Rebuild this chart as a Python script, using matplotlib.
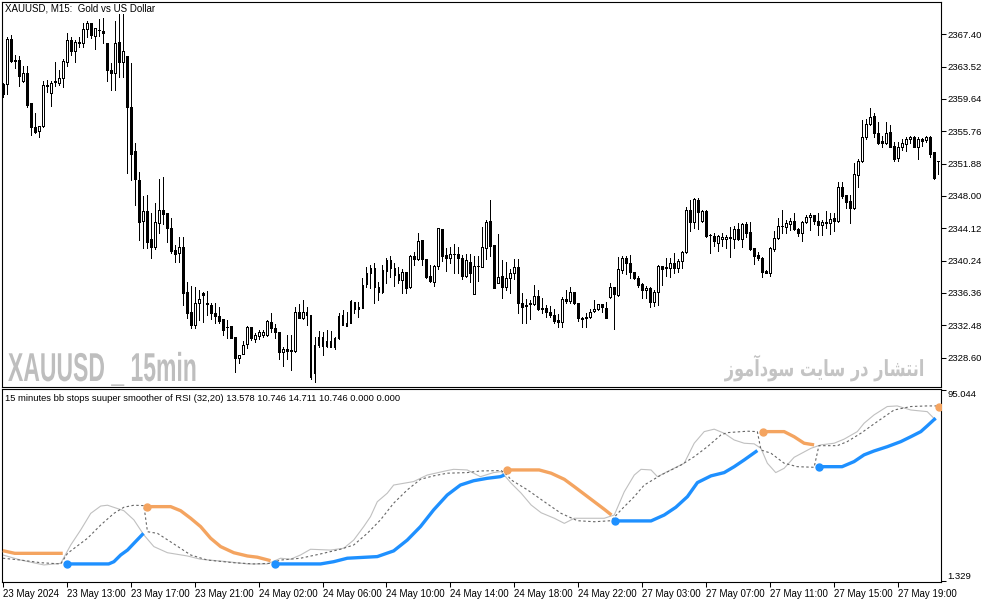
import numpy as np
import matplotlib
matplotlib.use("Agg")
import matplotlib.pyplot as plt
from matplotlib.patheffects import AbstractPathEffect
from matplotlib.transforms import Affine2D

# ---------------- price data (XAUUSD M15) ----------------
opens = [2361.38, 2361.38, 2366.78, 2364.3, 2364.3, 2361.82, 2362.78, 2359.18, 2356.3, 2355.82,
         2356.38, 2361.3, 2360.38, 2361.7, 2361.58, 2362.1, 2364.1, 2366.7, 2365.42, 2366.38,
         2366.3, 2367.98, 2368.7, 2367.22, 2367.94, 2367.78, 2366.3, 2363.1, 2362.78, 2366.42,
         2364.1, 2364.78, 2358.62, 2353.38, 2349.9, 2345.02, 2346.22, 2342.82, 2341.9, 2344.7,
         2346.3, 2345.9, 2344.1, 2341.5, 2341.1, 2341.9, 2336.5, 2334.1, 2332.5, 2335.18,
         2336.38, 2335.1, 2334.9, 2333.98, 2333.58, 2333.18, 2332.3, 2332.38, 2331.02, 2328.58,
         2328.98, 2330.18, 2332.22, 2330.78, 2331.22, 2331.3, 2331.3, 2332.9, 2332.1, 2331.62,
         2329.22, 2329.62, 2329.5, 2329.42, 2334.02, 2333.3, 2334.02, 2333.7, 2326.7, 2330.1,
         2331.02, 2329.98, 2330.62, 2329.9, 2330.9, 2333.7, 2332.42, 2332.7, 2335.22, 2334.62,
         2334.5, 2337.42, 2338.7, 2339.3, 2337.1, 2336.5, 2339.02, 2340.3, 2339.3, 2338.62,
         2337.9, 2338.82, 2337.02, 2340.78, 2340.38, 2342.7, 2340.38, 2338.38, 2337.7, 2339.62,
         2343.98, 2340.9, 2340.5, 2341.02, 2341.02, 2340.5, 2338.38, 2340.02, 2336.22, 2339.58,
         2339.5, 2341.7, 2344.98, 2342.1, 2337.5, 2338.38, 2337.02, 2338.1, 2338.7, 2339.5,
         2335.1, 2334.9, 2335.02, 2334.98, 2335.98, 2334.5, 2334.5, 2334.1, 2333.7, 2333.1,
         2332.9, 2335.58, 2335.38, 2336.42, 2335.1, 2333.38, 2333.42, 2333.5, 2334.22, 2334.38,
         2335.02, 2334.5, 2335.82, 2337.02, 2336.1, 2339.1, 2340.58, 2339.98, 2338.9, 2338.1,
         2337.42, 2336.7, 2336.9, 2335.3, 2336.42, 2339.62, 2339.3, 2339.3, 2339.9, 2339.3,
         2340.18, 2341.22, 2346.3, 2344.9, 2347.5, 2345.02, 2346.18, 2343.3, 2343.22, 2342.3,
         2342.78, 2342.78, 2343.1, 2342.78, 2343.98, 2342.78, 2344.62, 2343.62, 2341.7, 2340.9,
         2340.5, 2338.98, 2338.78, 2341.58, 2342.9, 2344.38, 2344.3, 2344.62, 2344.98, 2343.98,
         2343.5, 2344.82, 2345.42, 2345.7, 2345.02, 2344.5, 2344.9, 2344.78, 2345.3, 2345.02,
         2349.1, 2348.1, 2347.38, 2346.5, 2350.5, 2352.22, 2355.1, 2356.62, 2357.58, 2355.5,
         2354.58, 2354.38, 2355.62, 2353.98, 2352.5, 2353.82, 2354.22, 2354.78, 2355.1, 2353.9,
         2354.78, 2354.7, 2355.1, 2353.22, 2352.2]
highs = [2361.5, 2367.1, 2367.3, 2364.9, 2364.78, 2363.58, 2363.58, 2359.18, 2357.9, 2356.38,
         2361.82, 2361.9, 2361.82, 2364.02, 2363.1, 2364.38, 2367.5, 2367.02, 2366.7, 2367.1,
         2368.7, 2369.02, 2368.78, 2368.1, 2369.18, 2369.3, 2366.3, 2363.9, 2369.02, 2369.82,
         2369.82, 2364.78, 2363.9, 2354.3, 2350.9, 2347.98, 2348.1, 2345.9, 2347.1, 2349.98,
         2350.22, 2345.9, 2345.3, 2342.1, 2343.1, 2343.1, 2337.7, 2337.18, 2337.1, 2336.7,
         2336.5, 2336.58, 2335.1, 2335.1, 2334.62, 2333.18, 2333.1, 2332.38, 2331.1, 2328.9,
         2330.62, 2332.38, 2332.3, 2331.5, 2331.9, 2331.9, 2333.1, 2333.9, 2332.62, 2331.62,
         2329.9, 2331.3, 2331.3, 2334.7, 2335.02, 2335.5, 2334.7, 2333.7, 2331.1, 2331.82,
         2331.62, 2331.9, 2331.82, 2331.02, 2333.9, 2334.3, 2334.1, 2335.5, 2335.22, 2335.3,
         2338.1, 2339.5, 2339.7, 2339.9, 2337.7, 2339.7, 2340.58, 2340.78, 2339.9, 2339.5,
         2339.18, 2338.82, 2340.9, 2341.22, 2343.5, 2342.7, 2340.38, 2339.7, 2339.7, 2344.1,
         2343.98, 2341.7, 2341.9, 2342.18, 2341.82, 2340.9, 2341.02, 2341.02, 2340.78, 2340.78,
         2344.22, 2345.1, 2347.5, 2342.1, 2343.38, 2340.3, 2340.1, 2339.18, 2340.38, 2340.38,
         2336.3, 2335.58, 2335.5, 2337.3, 2336.7, 2335.7, 2334.9, 2334.78, 2334.38, 2333.82,
         2335.9, 2336.7, 2337.1, 2336.5, 2335.1, 2333.5, 2333.98, 2334.38, 2335.5, 2335.02,
         2335.02, 2335.3, 2337.5, 2337.02, 2340.7, 2340.78, 2340.78, 2340.9, 2338.9, 2338.38,
         2337.58, 2337.18, 2337.02, 2336.7, 2339.7, 2339.62, 2340.58, 2340.5, 2341.1, 2340.38,
         2341.42, 2346.7, 2347.5, 2347.7, 2347.7, 2346.3, 2346.3, 2343.38, 2343.5, 2343.3,
         2343.5, 2343.3, 2344.3, 2344.38, 2344.7, 2344.78, 2344.9, 2344.9, 2341.7, 2341.3,
         2340.62, 2339.1, 2341.9, 2343.78, 2345.3, 2346.3, 2345.1, 2345.3, 2345.98, 2344.1,
         2345.02, 2345.7, 2345.9, 2345.7, 2345.9, 2345.1, 2346.22, 2345.98, 2345.98, 2349.7,
         2349.7, 2348.1, 2348.1, 2351.9, 2352.38, 2357.1, 2357.18, 2358.5, 2357.9, 2356.9,
         2355.18, 2356.9, 2356.5, 2354.5, 2354.5, 2354.78, 2355.02, 2355.18, 2355.18, 2355.02,
         2354.9, 2355.18, 2355.18, 2353.22, 2352.2]
lows = [2359.9, 2360.22, 2364.1, 2363.3, 2361.22, 2361.7, 2358.62, 2355.3, 2355.5, 2355.1,
        2356.3, 2360.5, 2358.78, 2361.18, 2361.3, 2361.02, 2363.62, 2364.9, 2364.1, 2365.9,
        2365.9, 2367.02, 2366.98, 2365.62, 2367.22, 2366.38, 2361.82, 2360.7, 2360.7, 2362.3,
        2362.3, 2350.78, 2349.9, 2346.9, 2342.7, 2341.7, 2341.7, 2340.58, 2341.58, 2343.5,
        2344.62, 2342.5, 2341.1, 2340.1, 2340.1, 2334.9, 2333.3, 2332.1, 2332.1, 2333.1,
        2332.9, 2333.7, 2333.18, 2332.78, 2332.78, 2331.3, 2330.9, 2330.9, 2326.9, 2327.9,
        2328.98, 2329.7, 2330.7, 2330.5, 2330.78, 2331.1, 2331.18, 2331.7, 2330.9, 2328.38,
        2327.62, 2328.38, 2327.1, 2329.3, 2333.3, 2333.18, 2332.5, 2325.98, 2325.7, 2329.9,
        2328.9, 2329.82, 2329.82, 2329.58, 2330.78, 2332.5, 2332.38, 2332.7, 2333.9, 2333.5,
        2334.5, 2337.02, 2336.9, 2335.1, 2335.5, 2336.3, 2337.5, 2338.3, 2337.18, 2337.58,
        2336.3, 2336.3, 2336.9, 2339.7, 2340.3, 2339.7, 2338.1, 2337.7, 2337.18, 2339.18,
        2340.22, 2339.02, 2339.98, 2338.78, 2338.78, 2337.98, 2338.3, 2337.7, 2336.22, 2337.82,
        2339.42, 2340.38, 2340.78, 2336.9, 2337.5, 2335.7, 2336.7, 2336.38, 2337.98, 2333.98,
        2332.7, 2332.7, 2333.18, 2334.9, 2334.3, 2333.9, 2333.42, 2333.5, 2332.7, 2332.22,
        2332.22, 2335.1, 2335.1, 2335.02, 2333.02, 2332.22, 2332.22, 2333.3, 2334.1, 2334.3,
        2334.1, 2333.3, 2335.7, 2331.98, 2335.98, 2338.78, 2338.62, 2338.1, 2337.98, 2337.1,
        2335.7, 2335.78, 2334.7, 2334.78, 2334.9, 2337.3, 2338.38, 2338.3, 2338.78, 2338.9,
        2339.3, 2341.1, 2343.82, 2344.1, 2343.98, 2344.9, 2343.02, 2341.18, 2341.98, 2341.42,
        2341.98, 2341.7, 2340.62, 2341.7, 2342.7, 2341.82, 2343.1, 2341.5, 2339.78, 2340.3,
        2338.3, 2338.7, 2338.38, 2341.42, 2342.78, 2343.5, 2343.5, 2343.9, 2343.9, 2343.18,
        2342.62, 2344.7, 2343.9, 2344.62, 2343.3, 2343.3, 2344.1, 2343.42, 2343.82, 2344.9,
        2347.7, 2346.5, 2344.78, 2346.38, 2349.02, 2352.1, 2354.78, 2356.5, 2355.1, 2354.22,
        2353.9, 2354.22, 2353.82, 2352.22, 2352.22, 2353.5, 2353.42, 2354.38, 2353.82, 2352.42,
        2353.98, 2354.5, 2352.62, 2349.98, 2350.6]
closes = [2360.18, 2366.78, 2364.22, 2364.22, 2362.38, 2362.78, 2358.9, 2356.22, 2355.7, 2356.38,
          2361.3, 2361.18, 2361.58, 2361.74, 2362.1, 2364.18, 2366.7, 2365.42, 2366.5, 2366.42,
          2367.98, 2368.7, 2367.26, 2368.1, 2367.9, 2367.5, 2363.1, 2362.78, 2366.3, 2364.1,
          2365.38, 2358.62, 2352.98, 2349.98, 2344.9, 2346.22, 2342.5, 2341.9, 2344.9, 2346.3,
          2345.78, 2344.1, 2341.42, 2341.02, 2341.9, 2336.38, 2333.9, 2332.5, 2335.1, 2335.58,
          2336.1, 2335.06, 2333.9, 2333.58, 2333.02, 2331.9, 2332.26, 2330.98, 2328.5, 2328.86,
          2330.1, 2332.22, 2330.9, 2331.3, 2331.62, 2331.7, 2332.98, 2332.1, 2331.62, 2329.22,
          2329.62, 2329.42, 2329.38, 2334.02, 2333.3, 2334.02, 2333.7, 2326.3, 2330.1, 2331.1,
          2329.98, 2330.62, 2329.9, 2330.9, 2333.58, 2332.5, 2332.7, 2335.42, 2334.42, 2334.38,
          2337.3, 2338.7, 2339.38, 2337.02, 2336.5, 2339.1, 2340.3, 2339.3, 2338.5, 2337.9,
          2338.82, 2336.9, 2340.78, 2340.38, 2342.58, 2340.38, 2338.3, 2337.82, 2339.62, 2344.1,
          2340.78, 2340.5, 2341.02, 2340.98, 2340.5, 2338.38, 2340.3, 2338.78, 2339.58, 2339.54,
          2341.82, 2344.82, 2341.98, 2336.9, 2338.3, 2337.02, 2338.1, 2338.7, 2339.5, 2335.18,
          2334.62, 2334.78, 2335.18, 2335.98, 2334.42, 2334.46, 2334.1, 2333.7, 2333.02, 2332.9,
          2335.58, 2335.42, 2336.5, 2335.1, 2333.3, 2333.22, 2333.38, 2334.02, 2334.38, 2335.02,
          2334.62, 2333.38, 2337.02, 2336.22, 2339.22, 2340.58, 2339.98, 2338.9, 2338.1, 2337.3,
          2336.7, 2336.98, 2335.3, 2336.42, 2339.58, 2339.26, 2339.5, 2339.9, 2339.3, 2340.18,
          2341.22, 2346.3, 2344.82, 2347.58, 2346.1, 2346.18, 2343.22, 2343.26, 2342.62, 2343.18,
          2343.1, 2343.1, 2342.98, 2343.98, 2342.78, 2344.62, 2343.58, 2341.58, 2340.78, 2340.5,
          2338.9, 2338.78, 2341.7, 2342.98, 2344.38, 2344.34, 2344.78, 2344.98, 2343.98, 2343.5,
          2344.82, 2345.42, 2345.7, 2345.02, 2344.5, 2344.9, 2344.78, 2345.18, 2345.02, 2349.1,
          2347.98, 2347.3, 2346.5, 2350.58, 2352.22, 2355.1, 2356.62, 2357.5, 2355.5, 2354.38,
          2354.38, 2355.58, 2353.9, 2352.38, 2353.9, 2354.3, 2354.78, 2355.02, 2353.9, 2354.78,
          2354.62, 2355.1, 2353.02, 2350.1, 2352.2]

price_ticks = [2328.60, 2332.48, 2336.36, 2340.24, 2344.12, 2348.00,
               2351.88, 2355.76, 2359.64, 2363.52, 2367.40]

time_tick_bars = [0, 16, 32, 48, 64, 80, 96, 112, 128, 144, 160, 176, 192, 208, 224]
time_tick_labels = ["23 May 2024", "23 May 13:00", "23 May 17:00", "23 May 21:00",
                    "24 May 02:00", "24 May 06:00", "24 May 10:00", "24 May 14:00",
                    "24 May 18:00", "24 May 22:00", "27 May 03:00", "27 May 07:00",
                    "27 May 11:00", "27 May 15:00", "27 May 19:00"]

# ---------------- indicator data ----------------
rsi_bars = [0, 4.5, 10.3, 14.5, 17, 19.5, 22, 24.5, 26.2, 30.3, 32.8, 35.3, 37.8, 41.2, 46.2,
            49.5, 56.2, 61.2, 66.2, 69.5, 72, 74.5, 77, 82, 85.3, 87.8, 90.3, 92, 93.7, 96.2,
            97.8, 102.8, 106.2, 111.2, 112.8, 116.2, 119.5, 122.8, 124.7, 127.2, 129.7, 132.2,
            134.7, 138, 140.5, 143, 146.3, 150.5, 153, 155.5, 158, 159.7, 162.2, 163.8, 166.3,
            170.5, 173, 175.5, 178, 180.5, 183, 185.5, 188, 189.7, 191.3, 193.4, 195.5, 198,
            202.2, 204.7, 208, 210.5, 213.8, 215.5, 218, 221.3, 223.8, 227.2, 231.3, 233.4]
rsi_vals = [14.1, 11.6, 9.2, 10.0, 19.0, 26.4, 34.5, 38.1, 38.5, 35.8, 31.3, 23.9, 18.2, 15.2, 13.6,
            12.0, 10.8, 9.7, 9.7, 12.5, 12.0, 14.1, 16.9, 16.5, 17.4, 21.4, 28.0, 32.9, 40.2, 44.4,
            48.4, 50.1, 53.3, 55.5, 56.1, 55.8, 52.5, 54.5, 55.0, 49.3, 44.4, 38.6,
            34.8, 32.1, 29.6, 32.1, 32.1, 32.1, 33.7, 45.1, 53.3, 56.1, 55.8, 52.5, 55.0,
            59.1, 68.9, 74.6, 75.8, 73.8, 70.5, 68.9, 68.6, 66.4, 59.1, 54.5, 56.6, 62.0,
            66.4, 68.1, 68.9, 70.9, 74.6, 78.7, 82.8, 86.9, 87.2, 85.2, 84.4, 80.3]

band_bars = [0, 4.5, 9.5, 14.5, 16.2, 21.2, 24.5, 27.8, 30.3, 32.8, 35.3, 36.2, 38.7, 42.8, 47,
             51.2, 57.8, 62.8, 67, 69.5, 74.5, 79.5, 84.5, 87.8, 91.2, 94.5, 97.8, 101.2, 104.5,
             107.8, 111.2, 116.2, 119.5, 124.7, 126.2, 127.2, 131.3, 135.5, 139.7, 143.8, 148,
             152.2, 154.7, 158, 160.5, 164.7, 169.7, 173, 176.3, 179.7, 181.3, 186.3, 188.8,
             189.7, 192.2, 195.5, 198.8, 203, 204.2, 208.8, 211.3, 214.7, 218.8, 223, 227.2,
             231.3, 234.2]
band_vals = [12.5, 11.6, 10.3, 9.7, 14.9, 22.3, 28.8, 34.5, 37.5, 38.5, 38.3, 25.5, 24.7, 19.5, 14.1,
             11.6, 10.3, 9.7, 10.0, 11.6, 12.5, 14.6, 16.9, 19.0, 24.7, 31.3, 39.5, 46.0, 51.2,
             52.9, 54.2, 54.5, 55.3, 55.5, 53.3, 50.9, 46.0, 40.2, 34.5, 30.9, 30.4,
             30.9, 36.2, 42.7, 48.4, 53.3, 58.2, 62.3, 67.2, 73.0, 74.1, 74.8, 74.6,
             65.6, 64.0, 59.1, 57.4, 57.1, 67.7, 67.7, 69.7, 73.8, 79.5, 85.2, 86.9,
             87.2, 87.2]

stop_dir = ["dn", "up", "dn", "up", "dn", "up", "dn", "up", "dn"]
stop_dot = [False, True, True, True, True, True, True, True, True]
stop_bars = [
    [0, 3, 15],
    [16, 26.5, 27.8, 29.5, 31.2, 32.8, 35.2],
    [36.2, 42, 44.5, 47, 49.5, 52, 54.5, 57.8, 61.2, 63.7, 67],
    [68.2, 79.5, 82.8, 86.2, 93.7, 97.8, 101.2, 104.5, 107.8, 111.2, 114.5, 117.8, 121.2, 124.5, 125.5],
    [126.2, 134.2, 137.2, 140.5, 143, 145.5, 148, 150.5, 152.3],
    [153.2, 162.2, 165.5, 168.4, 171.3, 173.8, 177.2, 180.5, 183, 185.5, 188.8],
    [190.1, 195.5, 198, 200.5, 203],
    [204.2, 210, 213, 215.5, 218, 221.3, 224.7, 227.2, 229.7, 231.3, 233.4],
    [234.2],
]
stop_vals = [
    [16.2, 14.9, 14.9],
    [9.7, 9.7, 10.8, 14.1, 16.5, 19.8, 24.7],
    [37.8, 37.8, 35.8, 32.1, 28.0, 22.3, 18.2, 15.2, 13.6, 13.0, 11.3],
    [9.7, 9.7, 10.8, 12.5, 13.3, 16.1, 21.4, 28.0, 36.2, 43.5, 48.4, 50.5, 51.7, 52.5, 53.3],
    [55.8, 55.8, 54.2, 51.2, 47.6, 43.9, 40.2, 36.5, 33.7],
    [30.8, 30.8, 33.7, 37.5, 42.7, 49.6, 52.9, 54.5, 57.4, 60.7, 65.3],
    [74.6, 74.6, 72.1, 68.9, 68.1],
    [57.4, 57.4, 59.9, 63.2, 65.1, 67.2, 69.7, 72.1, 74.6, 77.4, 81.2],
    [86.9],
]
ind_ticks = [1.329, 95.044]
ind_label = "15 minutes bb stops suuper smoother of RSI (32,20) 13.578 10.746 14.711 10.746 0.000 0.000"
title_text = "XAUUSD, M15:  Gold vs US Dollar"
watermark_left = "XAUUSD _ 15min"
watermark_right = "انتشار در سایت سودآموز"

# ---------------- simple Persian shaping (presentation forms) ----------------
FORMS = {
    'ا': ('\uFE8D', '\uFE8E', None, None),
    'آ': ('\uFE81', '\uFE82', None, None),
    'ن': ('\uFEE5', '\uFEE6', '\uFEE7', '\uFEE8'),
    'ت': ('\uFE95', '\uFE96', '\uFE97', '\uFE98'),
    'ش': ('\uFEB5', '\uFEB6', '\uFEB7', '\uFEB8'),
    'ر': ('\uFEAD', '\uFEAE', None, None),
    'د': ('\uFEA9', '\uFEAA', None, None),
    'س': ('\uFEB1', '\uFEB2', '\uFEB3', '\uFEB4'),
    'ی': ('\uFBFC', '\uFBFD', '\uFBFE', '\uFBFF'),
    'و': ('\uFEED', '\uFEEE', None, None),
    'م': ('\uFEE1', '\uFEE2', '\uFEE3', '\uFEE4'),
    'ز': ('\uFEAF', '\uFEB0', None, None),
}


def shape_rtl(text):
    out = []
    for k, ch in enumerate(text):
        if ch not in FORMS:
            out.append(ch)
            continue
        prev = text[k - 1] if k > 0 else ''
        nxt = text[k + 1] if k + 1 < len(text) else ''
        jp = prev in FORMS and FORMS[prev][2] is not None
        jn = nxt in FORMS and FORMS[ch][2] is not None
        iso, fin, ini, med = FORMS[ch]
        if jp and jn:
            out.append(med)
        elif jp:
            out.append(fin)
        elif jn:
            out.append(ini)
        else:
            out.append(iso)
    return ''.join(reversed(out))


class Stretch(AbstractPathEffect):
    """Scale glyph outlines about an anchor point (display pixels)."""
    def __init__(self, sx, sy, x0, y0):
        super().__init__()
        self.sx, self.sy, self.x0, self.y0 = sx, sy, x0, y0

    def draw_path(self, renderer, gc, tpath, affine, rgbFace=None):
        t = affine + Affine2D().translate(-self.x0, -self.y0).scale(self.sx, self.sy).translate(self.x0, self.y0)
        renderer.draw_path(gc, tpath, t, rgbFace)


# ---------------- figure ----------------
plt.rcParams['font.family'] = ['Liberation Sans', 'DejaVu Sans']
W, H = 994, 603
fig = plt.figure(figsize=(W / 100, H / 100), dpi=100)
fig.patch.set_facecolor('white')

ax1 = fig.add_axes([2 / W, 1 - 387 / H, 939 / W, 385.5 / H])
ax2 = fig.add_axes([2 / W, 1 - 582 / H, 939 / W, 193 / H])

o = np.array(opens); h = np.array(highs); l = np.array(lows); c = np.array(closes)
x = np.arange(len(o))

ax1.vlines(x, l, h, color='black', linewidth=0.72, zorder=2, antialiased=False)
up = c >= o
body_h = np.maximum(np.abs(c - o), 0.03)
body_b = np.minimum(o, c)
ax1.bar(x[up], body_h[up], bottom=body_b[up], width=0.48, color='white',
        edgecolor='black', linewidth=0.72, zorder=3, antialiased=False)
ax1.bar(x[~up], body_h[~up], bottom=body_b[~up], width=0.48, color='black',
        edgecolor='black', linewidth=0.72, zorder=3, antialiased=False)

xlim = (-0.2, 234.75)
ax1.set_xlim(*xlim)
ax1.set_ylim(2325.06, 2371.32)
ax1.yaxis.tick_right()
ax1.set_yticks(price_ticks)
ax1.set_yticklabels([f"{v:.2f}" for v in price_ticks])
ax1.set_xticks([])
ax1.tick_params(axis='y', direction='out', length=3.5, width=0.75, pad=1,
                labelsize=6.8, colors='black')

for ax in (ax1, ax2):
    for s in ax.spines.values():
        s.set_linewidth(0.8)
        s.set_color('black')
    ax.set_facecolor('white')

# indicator
ax2.plot(rsi_bars, rsi_vals, color='#C0C0C0', linewidth=0.8, zorder=2)
ax2.plot(band_bars, band_vals, color='#666666', linewidth=0.8, linestyle=(0, (2.2, 2.2)), zorder=2)
colors = {"up": "#1E90FF", "dn": "#F4A460"}
for d, dot, bx, bv in zip(stop_dir, stop_dot, stop_bars, stop_vals):
    ax2.plot(bx, bv, color=colors[d], linewidth=2.4, solid_capstyle='butt', zorder=3)
    if dot:
        ax2.plot([bx[0]], [bv[0]], 'o', color=colors[d], markersize=5, zorder=4)

ax2.set_xlim(*xlim)
ax2.set_ylim(0.84, 95.5)
ax2.yaxis.tick_right()
ax2.set_yticks(ind_ticks)
ax2.set_yticklabels([f"{v:.3f}" for v in ind_ticks])
tl = ax2.get_yticklabels()
tl[0].set_va('bottom')
tl[1].set_va('top')
ax2.tick_params(axis='y', direction='out', length=3.5, width=0.75, pad=1,
                labelsize=6.8, colors='black')
ax2.set_xticks(time_tick_bars)
ax2.set_xticklabels(time_tick_labels)
for t in ax2.get_xticklabels():
    t.set_ha('left')
ax2.tick_params(axis='x', direction='out', length=3.5, width=0.75, pad=1.5,
                labelsize=7, colors='black')

# texts
fig.text(5 / W, 1 - 8.5 / H, title_text, fontsize=7, va='center', ha='left', color='black')
fig.text(5 / W, 1 - 398.5 / H, ind_label, fontsize=6.75, va='center', ha='left', color='black')

# left watermark: condensed tall bold lettering
wl_x, wl_base = 8, 381
fig.text(wl_x / W, 1 - wl_base / H, watermark_left, fontsize=29, fontweight='bold',
         color='#BEBEBE', va='baseline', ha='left',
         path_effects=[Stretch(0.57, 1.0, wl_x, H - wl_base)])

# right watermark (Persian)
wr_x, wr_base = 925, 376
fig.text(wr_x / W, 1 - wr_base / H, shape_rtl(watermark_right), fontsize=16, fontweight='bold',
         family=['DejaVu Sans'], color='#C4C4C4', va='baseline', ha='right',
         path_effects=[Stretch(0.73, 1.0, wr_x, H - wr_base)])

fig.savefig('out.png', dpi=100, facecolor='white')
